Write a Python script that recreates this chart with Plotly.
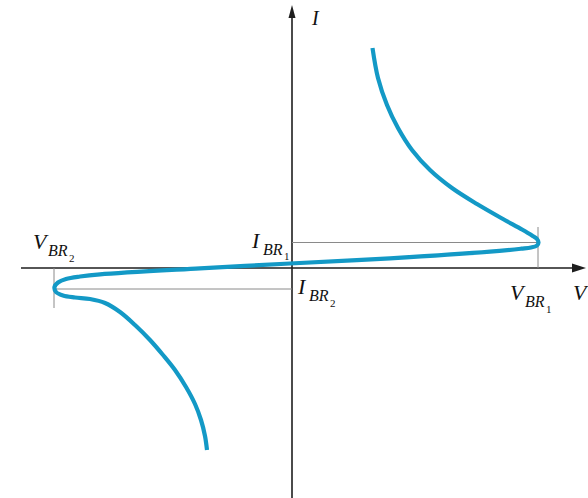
import plotly.graph_objects as go

# Voltage / current characteristic of a bidirectional breakdown device
# (arbitrary units, origin at the axis crossing)
V = [80.5, 86, 95, 106, 120, 138, 160, 185, 211, 230, 240, 245, 246.5, 245,
     239, 229, 198, 98, -2, -92, -192, -212, -226, -234, -237.5, -236, -229,
     -217, -202, -187, -172, -157, -142, -129, -117, -106, -97, -91, -87, -85]
I = [220, 190, 163, 140, 118, 98, 80, 64, 49, 38.5, 32.5, 29, 25.5, 22.5,
     20.5, 19.3, 16.3, 9.7, 4.5, -0.3, -6.3, -8.5, -11, -14.5, -19, -24, -27.5,
     -29.5, -31, -35, -44, -57, -72, -87, -102, -119, -136, -152, -168, -182]

# Breakdown points
VBR1, IBR1 = 246, 25.5
VBR2, IBR2 = -238, -21

X_MIN, X_MAX = -292, 296
Y_MIN, Y_MAX = -230, 268

fig = go.Figure()

fig.add_trace(go.Scatter(
    x=V, y=I, mode="lines",
    line=dict(color="#1399c6", width=4.2, shape="spline", smoothing=1.0),
    hoverinfo="skip", showlegend=False,
))

axis_col = "#1e1e1e"
ref_col = "#8a8a8a"
shapes = [
    # V axis
    dict(type="line", x0=-271, y0=0, x1=283, y1=0, line=dict(color=axis_col, width=1.6)),
    dict(type="path", path="M 294,0 L 280,-4.5 L 280,4.5 Z", fillcolor=axis_col, line=dict(width=0)),
    # I axis
    dict(type="line", x0=0, y0=Y_MIN, x1=0, y1=250, line=dict(color=axis_col, width=1.6)),
    dict(type="path", path="M 0,263 L -3.5,250 L 3.5,250 Z", fillcolor=axis_col, line=dict(width=0)),
    # breakdown reference lines
    dict(type="line", x0=0, y0=IBR1, x1=VBR1, y1=IBR1, line=dict(color=ref_col, width=1)),
    dict(type="line", x0=VBR1, y0=41, x1=VBR1, y1=0, line=dict(color=ref_col, width=1)),
    dict(type="line", x0=VBR2, y0=IBR2, x1=0, y1=IBR2, line=dict(color=ref_col, width=1)),
    dict(type="line", x0=VBR2, y0=0, x1=VBR2, y1=-40, line=dict(color=ref_col, width=1)),
]
for s in shapes:
    s.setdefault("xref", "x")
    s.setdefault("yref", "y")
    s["layer"] = "below"
fig.update_layout(shapes=shapes)

FONT = "Liberation Serif"


def label(x, y, text, size):
    fig.add_annotation(
        x=x, y=y, xref="x", yref="y", text=f"<i>{text}</i>", showarrow=False,
        xanchor="center", yanchor="middle",
        font=dict(family=FONT, size=size, color="#111111"),
    )


def sublabel(x, y, main, sub, idx):
    # main letter, "BR" subscript, numeric sub-subscript
    label(x, y, main, 22)
    label(x + 17, y - 9, sub, 16)
    if idx:
        fig.add_annotation(
            x=x + 31, y=y - 16, xref="x", yref="y", text=idx, showarrow=False,
            xanchor="center", yanchor="middle",
            font=dict(family=FONT, size=11, color="#111111"),
        )


sublabel(-36, 28, "I", "BR", "1")
sublabel(10, -18.5, "I", "BR", "2")
sublabel(225.5, -24.5, "V", "BR", "1")
sublabel(-251.5, 26.5, "V", "BR", "2")
label(289, -24.5, "V", 22)
label(23, 250, "I", 20)

fig.update_layout(
    width=588, height=498,
    margin=dict(l=0, r=0, t=0, b=0),
    paper_bgcolor="white", plot_bgcolor="white",
    xaxis=dict(range=[X_MIN, X_MAX], visible=False, fixedrange=True),
    yaxis=dict(range=[Y_MIN, Y_MAX], visible=False, fixedrange=True),
    showlegend=False,
)

fig.write_html("out.html")
